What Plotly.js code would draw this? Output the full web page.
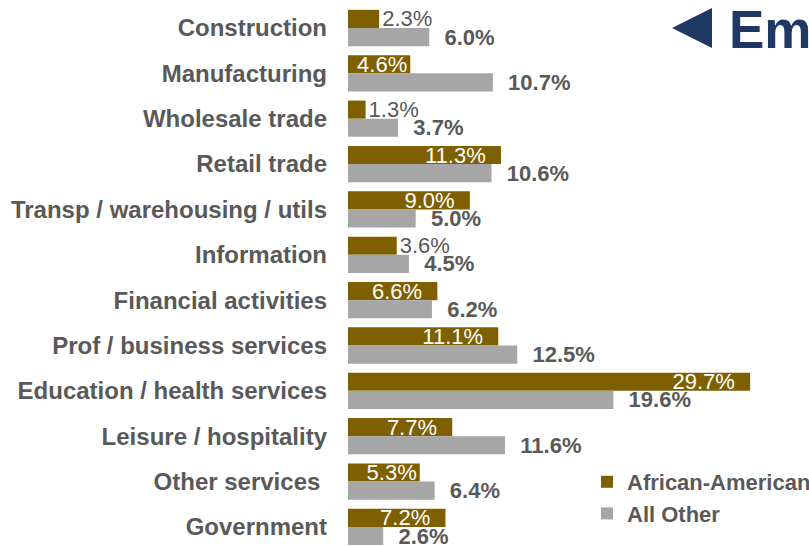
<!DOCTYPE html>
<html>
<head>
<meta charset="utf-8">
<script src="https://cdn.plot.ly/plotly-3.0.1.min.js"></script>
<style>html,body{margin:0;padding:0;background:#fff;}#chart{width:809px;height:546px;}</style>
</head>
<body>
<div id="chart"></div>
<script>
const categories = ["Construction","Manufacturing","Wholesale trade","Retail trade","Transp / warehousing / utils","Information","Financial activities","Prof / business services","Education / health services","Leisure / hospitality","Other services ","Government"];
const africanAmerican = [2.3,4.6,1.3,11.3,9.0,3.6,6.6,11.1,29.7,7.7,5.3,7.2];
const allOther = [6.0,10.7,3.7,10.6,5.0,4.5,6.2,12.5,19.6,11.6,6.4,2.6];
const aaOutside = [true,false,true,false,false,true,false,false,false,false,false,false];
const seriesNames = ["African-American","All Other"];
const titleText = "Em";

const NB = "\u00a0";
const gray = "#595959";
const font = "Liberation Sans, Arial, sans-serif";

const aaText = africanAmerican.map((v,i)=> aaOutside[i] ? v.toFixed(1)+"%" : v.toFixed(1)+"%"+(v > 6 ? NB+NB : ""));
const aaPos = aaOutside.map(o => o ? "outside" : "inside");
const aoText = allOther.map(v => NB+NB+v.toFixed(1)+"%");

const traces = [
  {type:"bar", orientation:"h", name:seriesNames[0], y:categories, x:africanAmerican,
   marker:{color:"#7F6000"}, text:aaText, textposition:aaPos, insidetextanchor:"end",
   constraintext:"none", cliponaxis:false, textangle:0,
   insidetextfont:{family:font, size:22, color:"#ffffff"},
   outsidetextfont:{family:font, size:22, color:gray}, hoverinfo:"skip"},
  {type:"bar", orientation:"h", name:seriesNames[1], y:categories, x:allOther,
   marker:{color:"#A6A6A6"}, text:aoText, textposition:"outside",
   constraintext:"none", cliponaxis:false, textangle:0,
   outsidetextfont:{family:font, size:22, color:gray, weight:"bold"}, hoverinfo:"skip"}
];

function px(x){return (x-348)/461;} function py(y){return 1-(y-5)/541;}

const layout = {
  width:809, height:546,
  margin:{l:348, r:0, t:5, b:0, autoexpand:false},
  paper_bgcolor:"#fff", plot_bgcolor:"#fff",
  barmode:"group", bargap:0.2, bargroupgap:0,
  font:{family:font, color:gray},
  xaxis:{range:[0,34.05], showgrid:false, zeroline:false, showline:false, showticklabels:false, ticks:"", fixedrange:true},
  yaxis:{type:"category", range:[11.42,-0.507], showgrid:false, zeroline:false, showline:false, ticks:"",
         ticklabelstandoff:20, tickfont:{family:font, size:24, color:gray, weight:"bold"}, fixedrange:true},
  showlegend:true,
  legend:{x:px(587), y:py(461), xanchor:"left", yanchor:"top", bgcolor:"rgba(0,0,0,0)",
          font:{family:font, size:22, color:gray, weight:"bold"}, traceorder:"normal", itemwidth:30},
  shapes:[{type:"path", xref:"paper", yref:"paper",
           path:`M${px(712)},${py(8)} L${px(672)},${py(28)} L${px(712)},${py(48)} Z`,
           line:{width:0}, fillcolor:"#1F3864"}],
  annotations:[{xref:"paper", yref:"paper", x:px(727), y:py(29), xanchor:"left", yanchor:"middle",
                text:titleText, showarrow:false, font:{family:font, size:53, color:"#1F3864", weight:"bold"}}]
};
Plotly.newPlot("chart", traces, layout, {displayModeBar:false, staticPlot:true});
</script>
</body>
</html>
